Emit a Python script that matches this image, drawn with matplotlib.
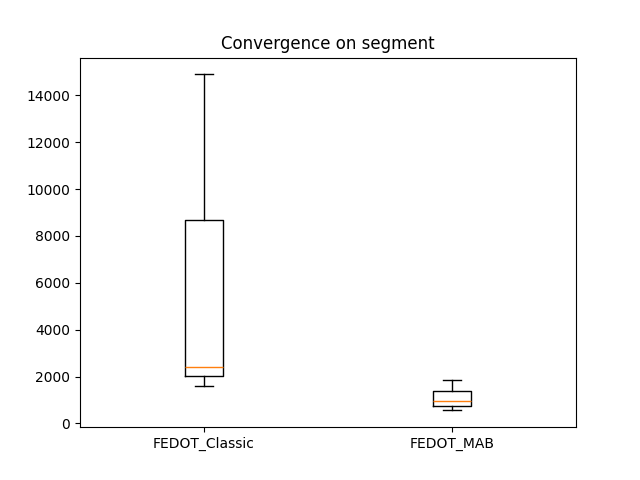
import matplotlib
matplotlib.use("Agg")
import matplotlib.pyplot as plt

labels = ["FEDOT_Classic", "FEDOT_MAB"]
whislo = [1580, 555]
q1 = [2005, 725]
med = [2390, 940]
q3 = [8665, 1365]
whishi = [14895, 1835]

stats = [
    dict(label=labels[i], whislo=whislo[i], q1=q1[i], med=med[i],
         q3=q3[i], whishi=whishi[i], fliers=[])
    for i in range(len(labels))
]

fig, ax = plt.subplots(figsize=(6.4, 4.8), dpi=100)
ax.bxp(stats, showfliers=False)
ax.set_title("Convergence on segment")
fig.savefig("out.png")
